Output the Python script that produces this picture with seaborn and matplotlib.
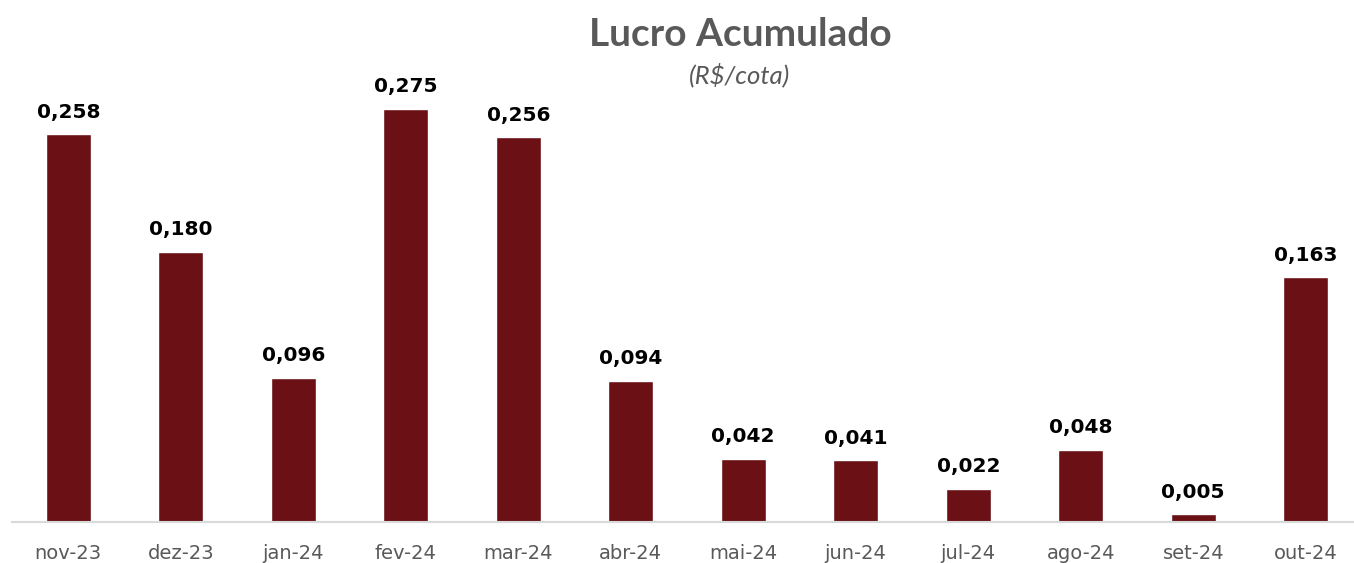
#!/usr/bin/env python3
import matplotlib
matplotlib.use("Agg")
import matplotlib.pyplot as plt
import seaborn as sns

meses = ['nov-23', 'dez-23', 'jan-24', 'fev-24', 'mar-24', 'abr-24',
         'mai-24', 'jun-24', 'jul-24', 'ago-24', 'set-24', 'out-24']
lucro = [0.258, 0.180, 0.096, 0.275, 0.256, 0.094,
         0.042, 0.041, 0.022, 0.048, 0.005, 0.163]

sns.set_style("white")
plt.rcParams['font.family'] = ['DejaVu Sans']

fig = plt.figure(figsize=(13.54, 5.63), dpi=100)
ax = fig.add_axes([12 / 1354, 41 / 563, 1350 / 1354, 522 / 563])

sns.barplot(x=meses, y=lucro, color='#6B1015', width=0.4, saturation=1, ax=ax)

for i, v in enumerate(lucro):
    ax.annotate(f"{v:.3f}".replace('.', ','), (i, v), xytext=(0, 9),
                textcoords='offset points', ha='center', va='bottom',
                fontsize=14.5, fontweight='bold', color='black')

ax.set_xlim(-0.5, 11.5)
ax.set_ylim(0, 0.3475)
ax.set_yticks([])
for s in ['top', 'right', 'left']:
    ax.spines[s].set_visible(False)
ax.spines['bottom'].set_color('#D9D9D9')
ax.spines['bottom'].set_linewidth(1.5)
ax.tick_params(axis='x', length=0, pad=16, labelsize=14, labelcolor='#595959')

fig.text(740 / 1354, 1 - 34 / 563, "Lucro Acumulado", ha='center', va='center',
         fontsize=28, fontweight='bold', color='#595959', family=['Lato', 'DejaVu Sans'])
fig.text(740 / 1354, 1 - 75 / 563, "(R$/cota)", ha='center', va='center',
         fontsize=18.5, style='italic', color='#595959', family=['Lato', 'DejaVu Sans'])

fig.savefig("out.png", dpi=100)
